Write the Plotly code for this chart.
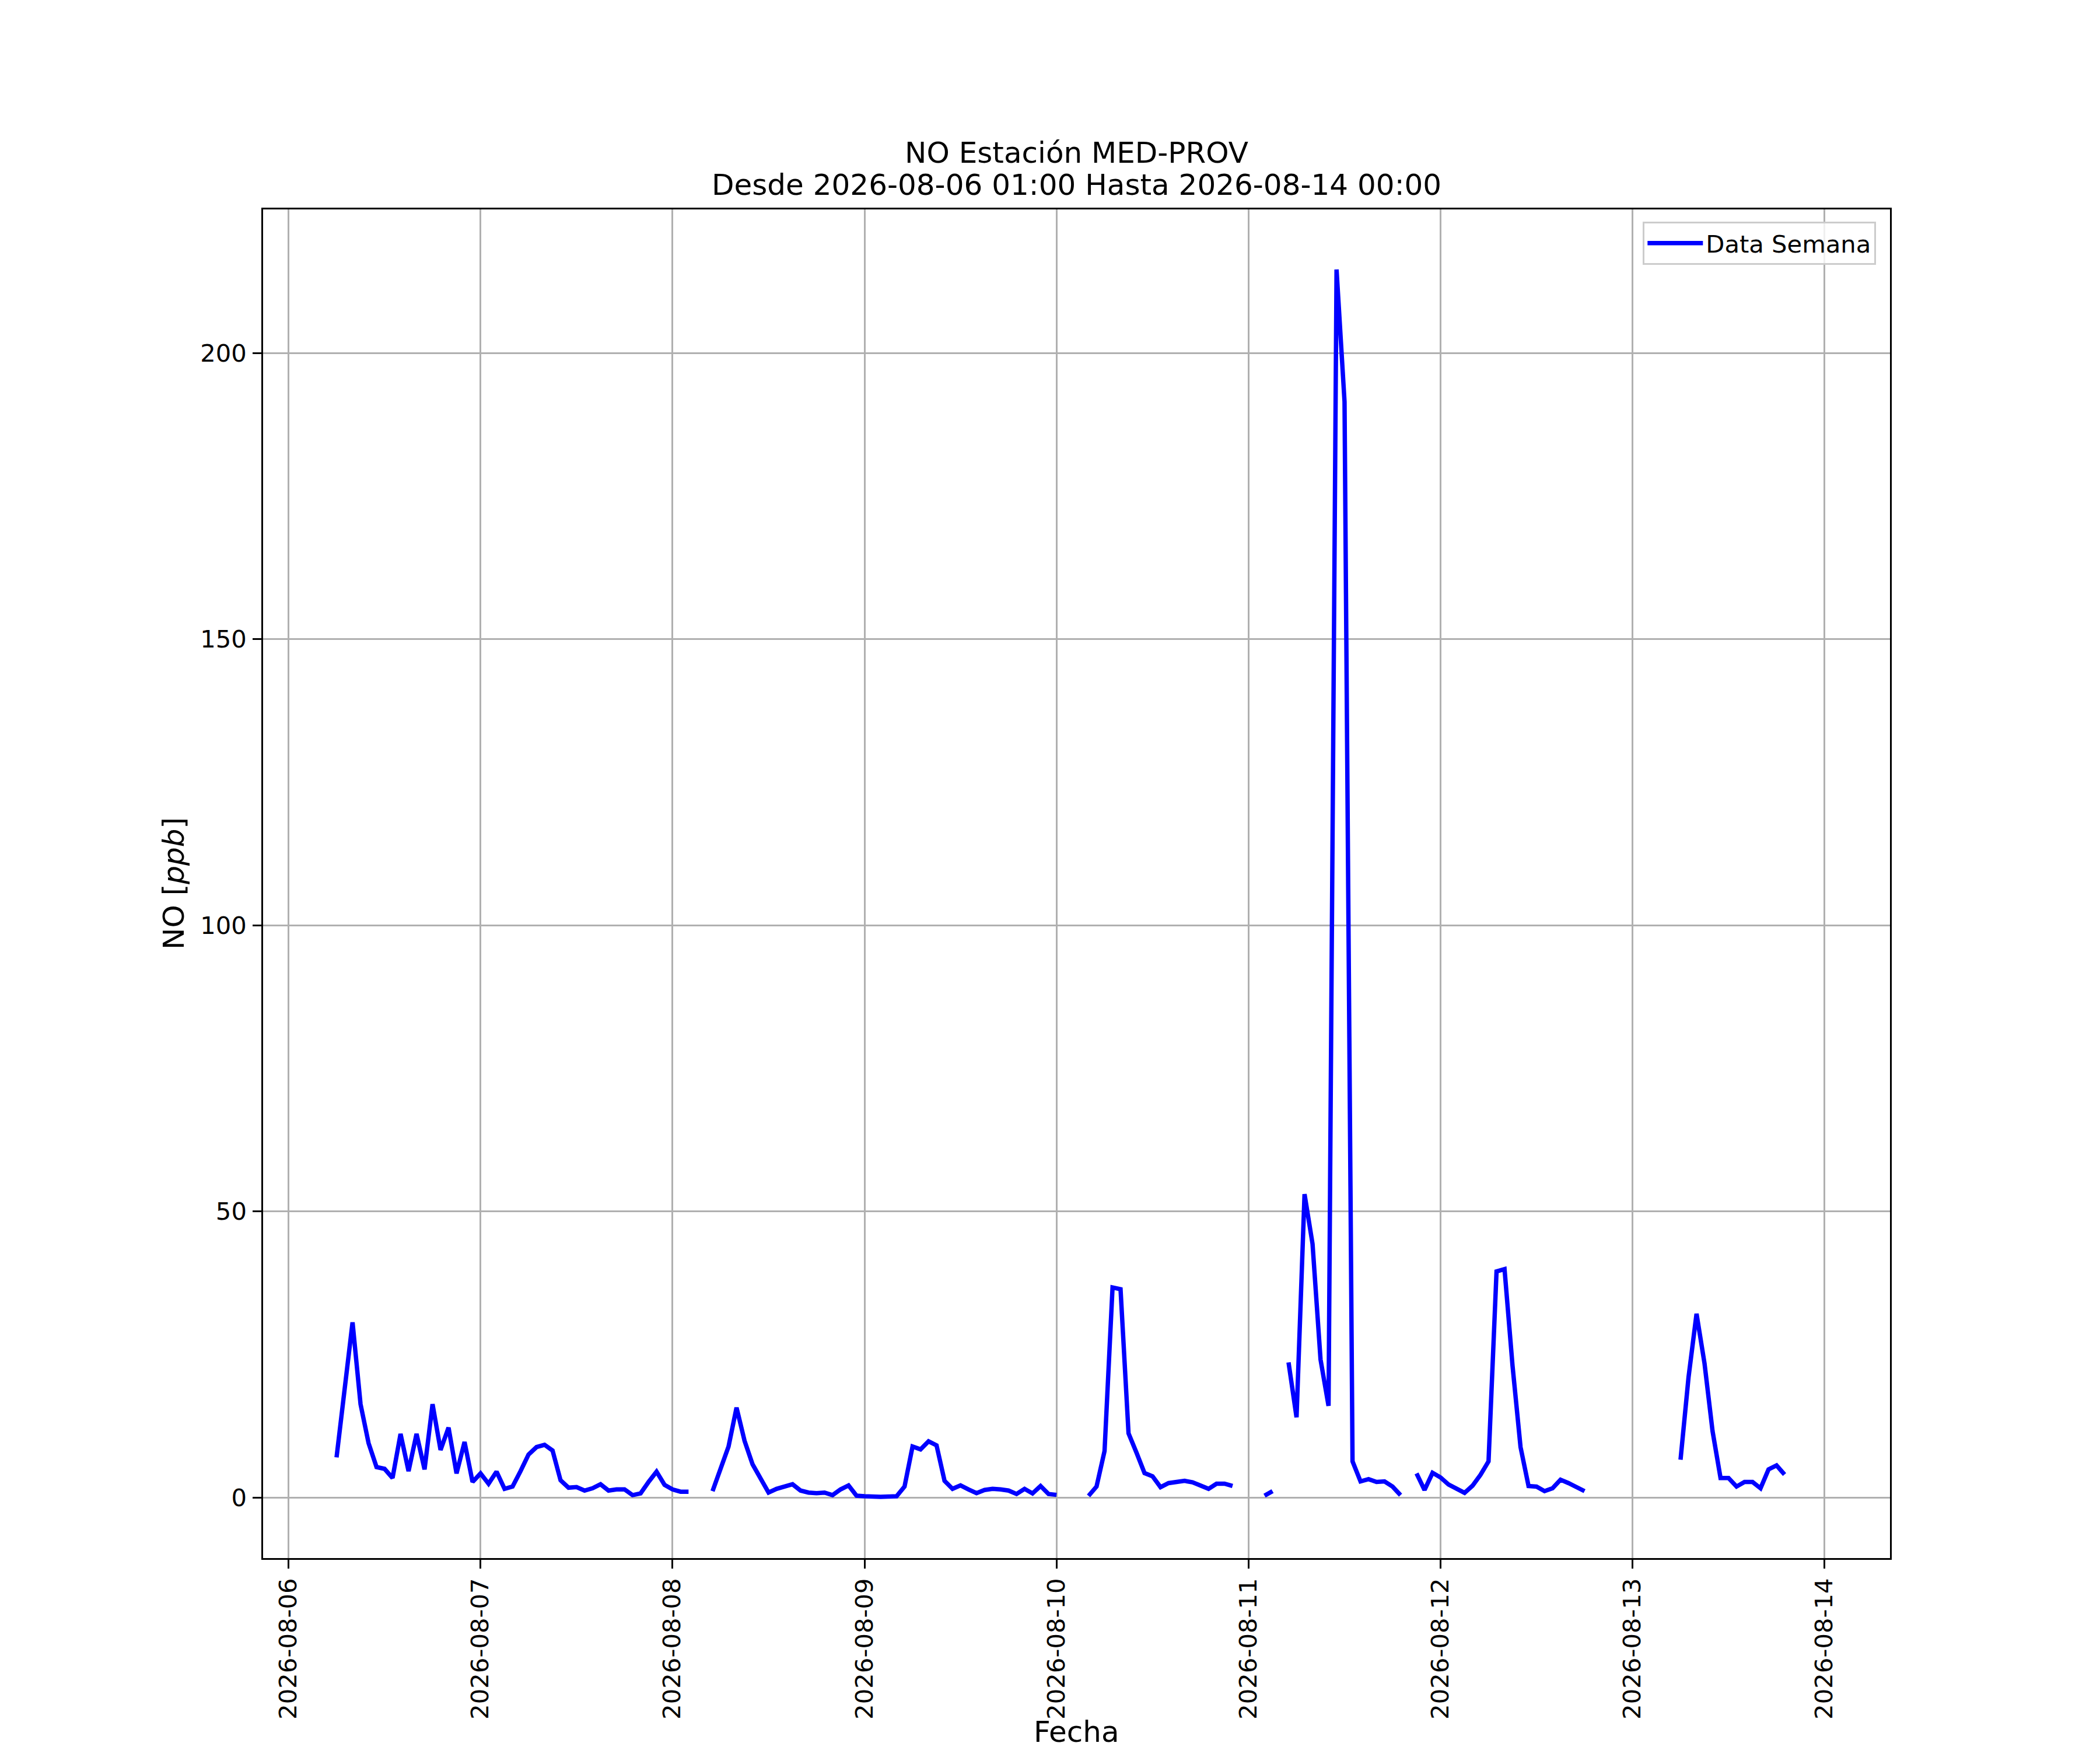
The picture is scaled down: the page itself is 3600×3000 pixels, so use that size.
import numpy as np
import pandas as pd
import plotly.graph_objects as go

# ---------------- data (hourly NO, ppb) ----------------
period_start = "2026-08-06 01:00"
period_end = "2026-08-14 00:00"

seg_starts = [
    "2026-08-06 06:00",
    "2026-08-08 05:00",
    "2026-08-10 04:00",
    "2026-08-11 02:00",
    "2026-08-11 05:00",
    "2026-08-11 21:00",
    "2026-08-13 06:00",
]

seg_a = [7.0, 19.0, 30.6, 16.3, 9.5, 5.3, 5.0, 3.4, 11.1, 4.6, 11.1, 4.9, 16.3, 8.3,
         12.2, 4.2, 9.7, 2.7, 4.2, 2.4, 4.5, 1.5, 1.9, 4.6, 7.5, 8.8, 9.2, 8.2, 3.0,
         1.7, 1.8, 1.2, 1.6, 2.3, 1.2, 1.4, 1.4, 0.4, 0.7, 2.7, 4.5, 2.2, 1.4, 1.0, 1.0]
seg_b = [1.1, 5.1, 8.9, 15.7, 9.9, 5.8, 3.4, 0.85, 1.5, 1.9, 2.3, 1.2, 0.85, 0.75,
         0.85, 0.4, 1.4, 2.1, 0.3, 0.2, 0.1, 0.1, 0.15, 0.2, 1.9, 8.9, 8.4, 9.8, 9.1,
         2.9, 1.5, 2.1, 1.4, 0.75, 1.3, 1.5, 1.4, 1.2, 0.6, 1.5, 0.7, 2.0, 0.6, 0.45]
seg_c = [0.27, 1.9, 8.1, 36.7, 36.4, 11.2, 7.8, 4.25, 3.7, 1.8, 2.5, 2.65, 2.9, 2.65,
         2.1, 1.5, 2.4, 2.4, 2.0]
seg_d = [0.3, 1.1]
seg_e = [23.6, 14.0, 53.0, 44.3, 24.1, 16.0, 214.6, 191.5, 6.3, 2.8, 3.2, 2.7, 2.8,
         1.9, 0.4]
seg_f = [4.2, 1.3, 4.3, 3.5, 2.25, 1.55, 0.8, 2.05, 3.95, 6.3, 39.5, 39.9, 23.0, 8.8,
         2.0, 1.9, 1.1, 1.6, 3.1, 2.5, 1.9, 1.1]
seg_g = [6.6, 21.0, 32.1, 23.4, 11.6, 3.4, 3.4, 1.9, 2.7, 2.7, 1.6, 4.9, 5.6, 4.0]

segments = [seg_a, seg_b, seg_c, seg_d, seg_e, seg_f, seg_g]

y_ticks = [0, 50, 100, 150, 200]
title_line1 = "NO Estación MED-PROV"
title_line2 = "Desde 2026-08-06 01:00 Hasta 2026-08-14 00:00"

# ---------------- build hourly series with gaps ----------------
series = pd.Series(np.nan, index=pd.date_range(period_start, period_end, freq="h"))
for start, vals in zip(seg_starts, segments):
    idx = pd.date_range(start, periods=len(vals), freq="h")
    series.loc[idx] = vals

x_vals = [t.strftime("%Y-%m-%d %H:%M") for t in series.index]
y_vals = [None if np.isnan(v) else float(v) for v in series.values]

# ---------------- figure ----------------
W, H = 3600, 3000
ML, MR, MT, MB = 451, 360, 359, 329
FONT = "DejaVu Sans"
TICK_FS = 41.7
LABEL_FS = 50

fig = go.Figure()
fig.add_trace(go.Scatter(
    x=x_vals, y=y_vals, mode="lines", name="Data Semana",
    line=dict(color="#0000ff", width=7.5), connectgaps=False,
))

axis_common = dict(
    showline=True, linecolor="black", linewidth=3.3, mirror=True,
    ticks="outside", ticklen=14.6, tickwidth=3.3, tickcolor="black",
    showgrid=True, gridcolor="#b0b0b0", gridwidth=3.3,
    tickfont=dict(family=FONT, size=TICK_FS, color="black"),
    zeroline=False,
)

fig.update_layout(
    width=W, height=H,
    margin=dict(l=ML, r=MR, t=MT, b=MB, autoexpand=False),
    paper_bgcolor="white", plot_bgcolor="white",
    font=dict(family=FONT, color="black"),
    showlegend=True,
    legend=dict(
        x=0.9914, y=0.991, xanchor="right", yanchor="top",
        bgcolor="rgba(255,255,255,0.8)", bordercolor="#cccccc", borderwidth=3.3,
        font=dict(family=FONT, size=TICK_FS, color="black"),
        itemwidth=95,
    ),
    xaxis=dict(
        **axis_common, type="date",
        range=["2026-08-05 20:49", "2026-08-14 08:11"],
        tick0="2026-08-06", dtick=86400000, tickformat="%Y-%m-%d",
        tickangle=-90, ticklabelstandoff=0,
    ),
    yaxis=dict(
        **axis_common, range=[-10.6, 225.1],
        tickmode="array", tickvals=y_ticks, ticktext=[str(v) for v in y_ticks],
        ticklabelstandoff=2,
    ),
    annotations=[
        dict(text=title_line1, xref="paper", yref="paper", x=0.5, y=1,
             xanchor="center", yanchor="bottom", yshift=66, showarrow=False,
             font=dict(family=FONT, size=LABEL_FS, color="black")),
        dict(text=title_line2, xref="paper", yref="paper", x=0.5, y=1,
             xanchor="center", yanchor="bottom", yshift=11, showarrow=False,
             font=dict(family=FONT, size=LABEL_FS, color="black")),
        dict(text="Fecha", xref="paper", yref="paper", x=0.5, y=0,
             xanchor="center", yanchor="bottom", yshift=-328, borderpad=0,
             showarrow=False,
             font=dict(family=FONT, size=LABEL_FS, color="black")),
        dict(text="NO [<i>ppb</i>]", xref="paper", yref="paper", x=0, y=0.5,
             xanchor="center", yanchor="middle", xshift=-153, textangle=-90,
             showarrow=False,
             font=dict(family=FONT, size=LABEL_FS, color="black")),
    ],
)

fig.write_html(
    "out.html",
    config={"displayModeBar": False},
    post_script="document.body.style.margin='0';document.body.style.overflow='hidden';",
)
